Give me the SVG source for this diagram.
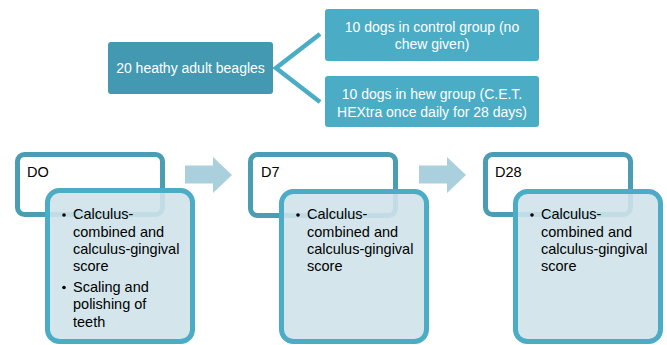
<svg xmlns="http://www.w3.org/2000/svg" width="667" height="345" viewBox="0 0 667 345">
  <style>
    text { font-family: "Liberation Sans", Arial, sans-serif; font-size: 14px; }
    .wt { fill: #ffffff; text-anchor: middle; }
    .bk { fill: #000000; font-size: 14.5px; }
    .head { fill: #ffffff; stroke: #4A9DB3; stroke-width: 5; }
    .body { fill: #CFE3EA; fill-opacity: 0.9; stroke: #4BACC6; stroke-width: 5; }
    .arrow { fill: #A9D0DC; }
    .conn { stroke: #4BACC6; stroke-width: 4.5; fill: none; }
  </style>
  <rect width="667" height="345" fill="#ffffff"/>

  <g id="connectors">
    <polyline class="conn" points="320,34 276,68 320,102"/>
    <polygon class="arrow" points="185,165.5 213,165.5 213,157 232,175 213,193 213,183.5 185,183.5"/>
    <polygon class="arrow" points="419,165.5 447,165.5 447,157 466,175 447,193 447,183.5 419,183.5"/>
  </g>

  <g id="beagles">
    <rect x="108" y="42" width="165" height="52" rx="3" fill="#4399B1"/>
    <text class="wt" x="190.5" y="73">20 heathy adult beagles</text>
  </g>
  <g id="control">
    <rect x="325" y="9" width="214" height="52" rx="3" fill="#4BACC6"/>
    <text class="wt" x="432" y="32">10 dogs in control group (no</text>
    <text class="wt" x="432" y="49">chew given)</text>
  </g>
  <g id="hew">
    <rect x="325" y="76" width="214" height="51" rx="3" fill="#4BACC6"/>
    <text class="wt" x="432" y="99">10 dogs in hew group (C.E.T.</text>
    <text class="wt" x="432" y="117">HEXtra once daily for 28 days)</text>
  </g>

  <g id="d0">
    <rect class="head" x="17.5" y="154.5" width="145" height="60" rx="7"/>
    <text class="bk" x="27" y="177">DO</text>
  </g>
  <g id="d0-body">
    <rect class="body" x="47.5" y="190.5" width="145" height="151" rx="12"/>
    <circle cx="64" cy="215" r="1.8" fill="#000"/>
    <text class="bk" x="73" y="219">Calculus-</text>
    <text class="bk" x="73" y="236.5">combined and</text>
    <text class="bk" x="73" y="253.5">calculus-gingival</text>
    <text class="bk" x="73" y="271">score</text>
    <circle cx="64" cy="287.5" r="1.8" fill="#000"/>
    <text class="bk" x="73" y="291.5">Scaling and</text>
    <text class="bk" x="73" y="309">polishing of</text>
    <text class="bk" x="73" y="326.5">teeth</text>
  </g>

  <g id="d7">
    <rect class="head" x="250.5" y="154.5" width="145" height="61" rx="7"/>
    <text class="bk" x="261" y="177">D7</text>
  </g>
  <g id="d7-body">
    <rect class="body" x="281.5" y="191.5" width="145" height="150" rx="12"/>
    <circle cx="298" cy="215" r="1.8" fill="#000"/>
    <text class="bk" x="307" y="219">Calculus-</text>
    <text class="bk" x="307" y="236.5">combined and</text>
    <text class="bk" x="307" y="253.5">calculus-gingival</text>
    <text class="bk" x="307" y="271">score</text>
  </g>

  <g id="d28">
    <rect class="head" x="485.5" y="154.5" width="145" height="60" rx="7"/>
    <text class="bk" x="495" y="177">D28</text>
  </g>
  <g id="d28-body">
    <rect class="body" x="515.5" y="191.5" width="145" height="150" rx="12"/>
    <circle cx="532" cy="215" r="1.8" fill="#000"/>
    <text class="bk" x="541" y="219">Calculus-</text>
    <text class="bk" x="541" y="236.5">combined and</text>
    <text class="bk" x="541" y="253.5">calculus-gingival</text>
    <text class="bk" x="541" y="271">score</text>
  </g>
</svg>
